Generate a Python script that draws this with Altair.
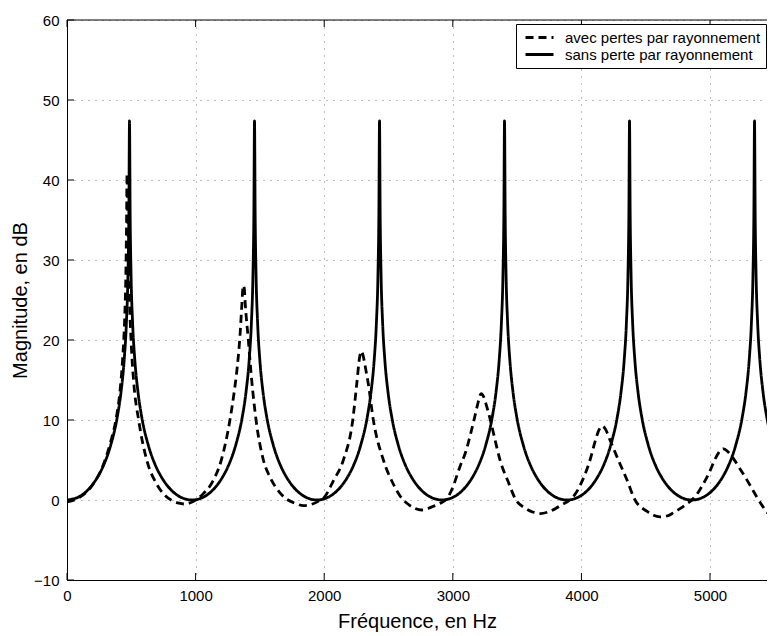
import altair as alt
import pandas as pd

# ---- data ----
serie_avec = "avec pertes par rayonnement"
serie_sans = "sans perte par rayonnement"

sans_freq = [
    0, 100, 150, 200, 240, 280, 340, 390, 420, 445, 462, 474, 481, 486, 491, 498, 510, 527, 552, 582, 632, 692, 732, 772, 822, 872,
    972, 1072, 1122, 1172, 1212, 1252, 1312, 1362, 1392, 1417, 1434, 1446, 1453, 1458, 1463, 1470, 1482, 1499, 1524, 1554, 1604, 1664, 1704, 1744, 1794, 1844,
    1944, 2044, 2094, 2144, 2184, 2224, 2284, 2334, 2364, 2389, 2406, 2418, 2425, 2430, 2435, 2442, 2454, 2471, 2496, 2526, 2576, 2636, 2676, 2716, 2766, 2816,
    2916, 3016, 3066, 3116, 3156, 3196, 3256, 3306, 3336, 3361, 3378, 3390, 3397, 3402, 3407, 3414, 3426, 3443, 3468, 3498, 3548, 3608, 3648, 3688, 3738, 3788,
    3888, 3988, 4038, 4088, 4128, 4168, 4228, 4278, 4308, 4333, 4350, 4362, 4369, 4374, 4379, 4386, 4398, 4415, 4440, 4470, 4520, 4580, 4620, 4660, 4710, 4760,
    4860, 4960, 5010, 5060, 5100, 5140, 5200, 5250, 5280, 5305, 5322, 5334, 5341, 5346, 5351, 5358, 5370, 5387, 5412, 5442, 5492, 5552,
]
sans_db = [
    0, 0.46, 1.06, 1.96, 2.93, 4.18, 6.86, 10.30, 13.49, 17.58, 22.21, 28.22, 35.83, 47.4, 35.83, 28.22, 22.21, 17.58, 13.49, 10.30, 6.86, 4.18, 2.93, 1.96, 1.06, 0.46,
    0, 0.46, 1.06, 1.96, 2.93, 4.18, 6.86, 10.30, 13.49, 17.58, 22.21, 28.22, 35.83, 47.4, 35.83, 28.22, 22.21, 17.58, 13.49, 10.30, 6.86, 4.18, 2.93, 1.96, 1.06, 0.46,
    0, 0.46, 1.06, 1.96, 2.93, 4.18, 6.86, 10.30, 13.49, 17.58, 22.21, 28.22, 35.83, 47.4, 35.83, 28.22, 22.21, 17.58, 13.49, 10.30, 6.86, 4.18, 2.93, 1.96, 1.06, 0.46,
    0, 0.46, 1.06, 1.96, 2.93, 4.18, 6.86, 10.30, 13.49, 17.58, 22.21, 28.22, 35.83, 47.4, 35.83, 28.22, 22.21, 17.58, 13.49, 10.30, 6.86, 4.18, 2.93, 1.96, 1.06, 0.46,
    0, 0.46, 1.06, 1.96, 2.93, 4.18, 6.86, 10.30, 13.49, 17.58, 22.21, 28.22, 35.83, 47.4, 35.83, 28.22, 22.21, 17.58, 13.49, 10.30, 6.86, 4.18, 2.93, 1.96, 1.06, 0.46,
    0, 0.46, 1.06, 1.96, 2.93, 4.18, 6.86, 10.30, 13.49, 17.58, 22.21, 28.22, 35.83, 47.4, 35.83, 28.22, 22.21, 17.58, 13.49, 10.30, 6.86, 4.18,
]

avec_freq = [
    0, 100, 200, 280, 340, 380, 410, 432, 448, 458, 463, 467, 471, 478, 486, 498, 520, 557, 620, 697, 760, 820, 870, 915, 960,
    1010, 1060, 1125, 1200, 1235, 1267, 1300, 1325, 1345, 1360, 1370, 1378, 1386, 1410, 1436, 1470, 1527, 1580, 1631, 1700, 1770, 1840, 1900, 1960,
    2003, 2071, 2149, 2222, 2253, 2275, 2288, 2300, 2320, 2343, 2382, 2460, 2537, 2590, 2650, 2700, 2758, 2810, 2860, 2910,
    2960, 3000, 3056, 3100, 3134, 3172, 3200, 3220, 3240, 3260, 3295, 3330, 3367, 3430, 3491, 3560, 3620, 3678, 3740, 3800, 3850,
    3900, 3950, 3989, 4030, 4067, 4106, 4135, 4160, 4185, 4222, 4287, 4352, 4417, 4508, 4560, 4611, 4665, 4715, 4770, 4819,
    4858, 4897, 4940, 4987, 5052, 5080, 5105, 5135, 5181, 5225, 5272, 5320, 5363, 5410, 5441, 5505, 5560,
]
avec_db = [
    -0.25, 0.35, 1.9, 4.3, 7.3, 10.0, 13.3, 17.5, 22.5, 28.5, 34.5, 40.8, 36.5, 31.0, 25.0, 20.0, 14.5, 10.0, 5.0, 2.0, 0.6, -0.1, -0.4, -0.5, -0.35,
    0.1, 0.8, 2.1, 5.0, 7.3, 10.0, 13.5, 16.8, 20.5, 24.5, 26.8, 26.5, 24.5, 20.0, 15.0, 10.0, 5.0, 2.8, 1.4, 0.2, -0.4, -0.7, -0.55, -0.1,
    0.4, 2.4, 5.0, 10.0, 14.5, 17.8, 18.6, 18.2, 16.6, 14.5, 10.0, 5.0, 2.0, 0.5, -0.5, -1.0, -1.25, -1.05, -0.7, -0.35,
    0.3, 1.6, 4.2, 6.0, 8.0, 10.5, 12.4, 13.3, 12.9, 11.9, 9.8, 7.4, 5.0, 2.3, 0.0, -1.0, -1.5, -1.7, -1.5, -1.05, -0.55,
    -0.1, 0.7, 1.8, 3.3, 5.0, 7.3, 8.7, 9.25, 8.9, 7.5, 5.0, 2.6, 0.0, -1.4, -1.9, -2.1, -2.0, -1.6, -1.05, -0.5,
    0.0, 0.7, 1.8, 3.2, 5.5, 6.2, 6.4, 6.1, 5.2, 4.1, 2.9, 1.6, 0.4, -0.8, -1.5, -2.2, -2.5,
]

x_ticks = [0, 1000, 2000, 3000, 4000, 5000]
y_ticks = [-10, 0, 10, 20, 30, 40, 50, 60]
x_domain = [0, 5443]
y_domain = [-10, 60]

FONT = "Liberation Sans"
PLOT_W, PLOT_H = 700, 560
TICK_PX = 7
tick_dx = TICK_PX * (x_domain[1] - x_domain[0]) / PLOT_W
tick_dy = TICK_PX * (y_domain[1] - y_domain[0]) / PLOT_H

df = pd.DataFrame({
    "f": sans_freq + avec_freq,
    "db": sans_db + avec_db,
    "serie": [serie_sans] * len(sans_freq) + [serie_avec] * len(avec_freq),
})
xt = pd.DataFrame({"v": x_ticks})
yt = pd.DataFrame({"v": y_ticks})
one = pd.DataFrame({"v": [0]})

xscale = alt.Scale(domain=x_domain, nice=False, zero=False)
yscale = alt.Scale(domain=y_domain, nice=False, zero=False)

dash_scale = alt.Scale(domain=[serie_avec, serie_sans], range=[[8, 5], [1, 0]])
legend = alt.Legend(
    title=None, orient="none", legendX=449, legendY=4,
    symbolType="M-2,0H2", symbolSize=196, symbolStrokeWidth=2.8,
    symbolStrokeColor="black", symbolOffset=10,
    labelFontSize=15, labelFont=FONT,
    labelColor="black", labelOffset=17, strokeColor="black",
    fillColor="white", padding=5, rowPadding=0, labelLimit=400,
)

x_axis = alt.Axis(values=x_ticks, format="d", title="Fréquence, en Hz", titlePadding=8)
y_axis = alt.Axis(values=y_ticks, format="d", title="Magnitude, en dB", titlePadding=3)

base = alt.Chart(df)

dashed = base.transform_filter(alt.datum.serie == serie_avec).mark_line(
    color="black", strokeWidth=2.8, interpolate="monotone", clip=True
).encode(
    x=alt.X("f:Q", scale=xscale, axis=x_axis),
    y=alt.Y("db:Q", scale=yscale, axis=y_axis),
    strokeDash=alt.StrokeDash("serie:N", scale=dash_scale, legend=legend),
    order=alt.Order("f:Q"),
)

solid = base.transform_filter(alt.datum.serie == serie_sans).mark_line(
    color="black", strokeWidth=2.8, interpolate="monotone", clip=True
).encode(
    x=alt.X("f:Q"),
    y=alt.Y("db:Q"),
    strokeDash=alt.StrokeDash("serie:N", scale=dash_scale, legend=legend),
    order=alt.Order("f:Q"),
)

# inward tick marks (bottom, top, left) and the top border line
tick_bottom = alt.Chart(xt).mark_rule(color="black", strokeWidth=1).encode(
    x=alt.X("v:Q"),
    y=alt.datum(y_domain[0]),
    y2=alt.datum(y_domain[0] + tick_dy),
)
tick_top = alt.Chart(xt).mark_rule(color="black", strokeWidth=1).encode(
    x=alt.X("v:Q"),
    y=alt.datum(y_domain[1]),
    y2=alt.datum(y_domain[1] - tick_dy),
)
tick_left = alt.Chart(yt).mark_rule(color="black", strokeWidth=1).encode(
    y=alt.Y("v:Q"),
    x=alt.datum(x_domain[0]),
    x2=alt.datum(x_domain[0] + tick_dx),
)
top_border = alt.Chart(one).mark_rule(color="black", strokeWidth=1).encode(
    x=alt.datum(x_domain[0]),
    x2=alt.datum(x_domain[1]),
    y=alt.datum(y_domain[1]),
)

chart = alt.layer(dashed, solid, tick_bottom, tick_top, tick_left, top_border).properties(
    width=PLOT_W, height=PLOT_H,
    autosize=alt.AutoSizeParams(type="none"),
    padding={"left": 59, "top": 12, "right": 0, "bottom": 54},
    background="white",
).configure_view(stroke=None).configure_axis(
    grid=True, ticks=False, labelPadding=8, labelFontSize=15,
    labelFont=FONT, labelColor="black", titleFont=FONT, titleFontSize=20,
    titleFontWeight="normal", titleColor="black", domainColor="black",
    gridDash=[1, 6], gridColor="#808080", gridOpacity=1, labelFlush=False,
)

chart.save("out.html", embed_options={"renderer": "svg", "actions": False})
